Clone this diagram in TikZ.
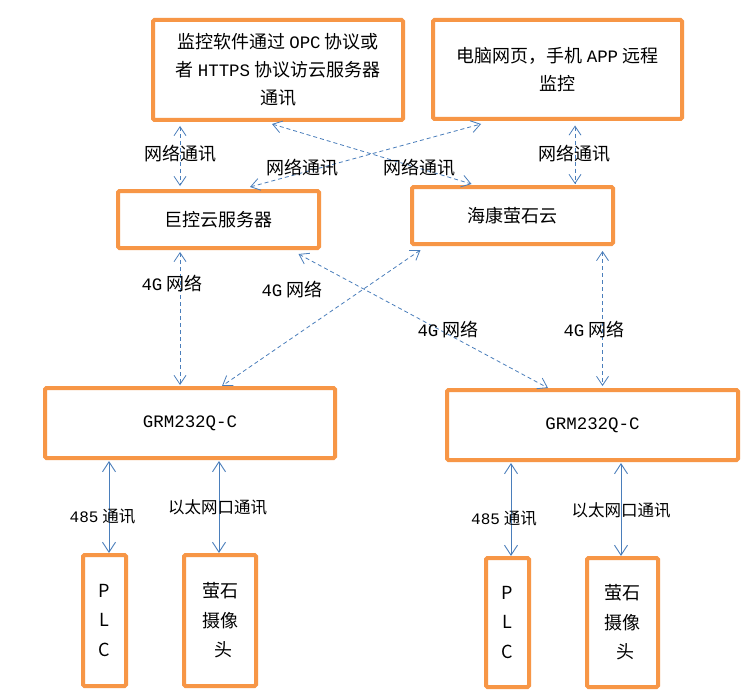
\documentclass[tikz,border=0pt]{standalone}
\usepackage{fontspec}
\setmainfont{Noto Sans CJK SC}
\newfontfamily\monofam[Scale=0.97]{Liberation Mono}
\usetikzlibrary{arrows.meta,calc}
\definecolor{boxorange}{HTML}{F79646}
\definecolor{linkblue}{HTML}{4A7EBB}
\newcommand\latn[1]{{\monofam #1}}
\begin{document}
\begin{tikzpicture}[x=1pt,y=-1pt,
  box/.style={draw=boxorange, line width=4pt, fill=white, rounded corners=1.5pt,
    inner sep=0pt, align=center, font=\fontsize{18}{28}\selectfont, text=black},
  tallbox/.style={box, font=\fontsize{18}{29.5}\selectfont},
  netlink/.style={draw=linkblue, line width=0.8pt, dash pattern=on 4pt off 3pt,
    {Straight Barb[length=9pt,width=12pt]}-{Straight Barb[length=9pt,width=12pt]}},
  wirelink/.style={draw=linkblue, line width=0.9pt,
    {Straight Barb[length=10pt,width=13pt]}-{Straight Barb[length=10pt,width=13pt]}},
  lbl/.style={font=\fontsize{18}{22}\selectfont, inner sep=0pt, text=black},
  smalllbl/.style={font=\fontsize{16.5}{20}\selectfont, inner sep=0pt, text=black}]

\useasboundingbox (0,0) rectangle (756,693);
\fill[white] (0,0) rectangle (756,693);

% top boxes
\node[box, minimum width=250pt, minimum height=100pt] (b1) at (278,70)
  {监控软件通过 \latn{OPC} 协议或\\者 \latn{HTTPS} 协议访云服务器\\通讯};
\node[box, minimum width=249pt, minimum height=99pt] (b2) at (557.5,69.5)
  {电脑网页，手机 \latn{APP} 远程\\监控};

% cloud boxes
\node[box, minimum width=201pt, minimum height=57pt] (b3) at (218.5,219.5) {巨控云服务器};
\node[box, minimum width=201pt, minimum height=57pt] (b4) at (512.5,215.5) {海康萤石云};

% gateways
\node[box, minimum width=290pt, minimum height=70pt] (b5) at (190,423) {\latn{GRM232Q-C}};
\node[box, minimum width=291pt, minimum height=70pt] (b6) at (592.5,425) {\latn{GRM232Q-C}};

% devices
\node[tallbox, minimum width=43pt, minimum height=131pt] (plc1) at (104.5,620.5) {P\\L\\C};
\node[tallbox, minimum width=72pt, minimum height=131pt] (cam1) at (220,620.5) {萤石\\摄像\\\hspace*{6pt}头};
\node[tallbox, minimum width=43pt, minimum height=129pt] (plc2) at (507.5,622.5) {P\\L\\C};
\node[tallbox, minimum width=71pt, minimum height=129pt] (cam2) at (622.5,622.5) {萤石\\摄像\\\hspace*{6pt}头};

% network links (top)
\draw[netlink] ($(b1.south)+(-98,4)$) -- ($(b3.north)+(-38.5,-3)$);
\draw[netlink] ($(b1.south)+(-6,2)$) -- ($(b4.north)+(-41,-1)$);
\draw[netlink] ($(b3.north)+(31.5,-2)$) -- ($(b2.south)+(-76.5,3)$);
\draw[netlink] ($(b2.south)+(17.5,4.5)$) -- ($(b4.north)+(62.5,-1)$);

% 4G links
\draw[netlink] ($(b3.south)+(-38.5,2)$) -- ($(b5.north)+(-10,-1)$);
\draw[netlink] ($(b4.south)+(-92,4)$) -- ($(b5.north)+(32,0)$);
\draw[netlink] ($(b3.south)+(80,4)$) -- ($(b6.north)+(-44.5,0)$);
\draw[netlink] ($(b4.south)+(90,5)$) -- ($(b6.north)+(10,-2)$);

% wired links
\draw[wirelink] ($(b5.south)+(-81,1)$) -- ($(plc1.north)+(4.5,0)$);
\draw[wirelink] ($(b5.south)+(29,1)$) -- ($(cam1.north)+(-1,0)$);
\draw[wirelink] ($(b6.south)+(-81.5,1)$) -- ($(plc2.north)+(3.5,0)$);
\draw[wirelink] ($(b6.south)+(28.5,1)$) -- ($(cam2.north)+(-1.5,0)$);

% labels
\node[lbl] (l1) at (180,154) {网络通讯};
\node[lbl] (l2) at (302,168) {网络通讯};
\node[lbl] (l3) at (419,168) {网络通讯};
\node[lbl] (l4) at (574,154) {网络通讯};

\node[lbl] (g1) at (172,284) {\latn{4G} 网络};
\node[lbl] (g2) at (292,290) {\latn{4G} 网络};
\node[lbl] (g3) at (448,330) {\latn{4G} 网络};
\node[lbl] (g4) at (594,330) {\latn{4G} 网络};

\node[smalllbl] (r1) at (102.5,517) {\latn{485} 通讯};
\node[smalllbl] (e1) at (217.5,507) {以太网口通讯};
\node[smalllbl] (r2) at (504,519) {\latn{485} 通讯};
\node[smalllbl] (e2) at (621,510) {以太网口通讯};
\end{tikzpicture}
\end{document}
